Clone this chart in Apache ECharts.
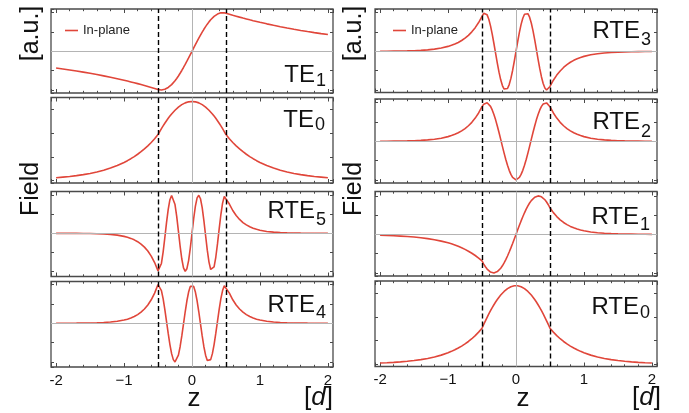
<!DOCTYPE html>
<html><head><meta charset="utf-8">
<script src="https://cdn.jsdelivr.net/npm/echarts@6/dist/echarts.min.js"></script>
<style>html,body{margin:0;padding:0;background:#fff}#c{width:689px;height:413px}</style>
</head><body><div id="c"></div>
<script>
// ---- data ----
const z = [-2,-1.9,-1.8,-1.7,-1.6,-1.5,-1.4,-1.3,-1.2,-1.1,
 -1,-0.95,-0.9,-0.85,-0.8,-0.75,-0.7,-0.65,-0.6,-0.55,
 -0.5,-0.475,-0.45,-0.425,-0.4,-0.375,-0.35,-0.325,-0.3,-0.275,-0.25,-0.225,-0.2,-0.175,-0.15,-0.125,-0.1,-0.075,-0.05,-0.025,0,
 0.025,0.05,0.075,0.1,0.125,0.15,0.175,0.2,0.225,0.25,0.275,0.3,0.325,0.35,0.375,0.4,0.425,0.45,0.475,0.5,
 0.55,0.6,0.65,0.7,0.75,0.8,0.85,0.9,0.95,1,
 1.1,1.2,1.3,1.4,1.5,1.6,1.7,1.8,1.9,2];

const te1 = [
-0.433,-0.457,-0.483,-0.510,-0.539,-0.569,-0.602,-0.636,-0.672,-0.710,
-0.750,-0.771,-0.792,-0.814,-0.837,-0.860,-0.884,-0.909,-0.934,-0.960,
-0.987,-0.997,-1.000,-0.995,-0.983,-0.963,-0.936,-0.902,-0.862,-0.815,-0.761,-0.702,-0.638,-0.569,-0.496,-0.419,-0.339,-0.257,-0.172,-0.086,0,
0.086,0.172,0.257,0.339,0.419,0.496,0.569,0.638,0.702,0.761,0.815,0.862,0.902,0.936,0.963,0.983,0.995,1.000,0.997,0.987,
0.960,0.934,0.909,0.884,0.860,0.837,0.814,0.792,0.771,0.750,
0.710,0.672,0.636,0.602,0.569,0.539,0.510,0.483,0.457,0.433];

const te0 = [
0.036,0.044,0.052,0.063,0.076,0.091,0.110,0.132,0.159,0.191,
0.230,0.252,0.277,0.304,0.333,0.365,0.401,0.439,0.482,0.529,
0.582,0.620,0.656,0.691,0.725,0.757,0.787,0.815,0.842,0.867,0.889,0.910,0.929,0.945,0.960,0.972,0.982,0.990,0.995,0.999,1,
0.999,0.995,0.990,0.982,0.972,0.960,0.945,0.929,0.910,0.889,0.867,0.842,0.815,0.787,0.757,0.725,0.691,0.656,0.620,0.582,
0.529,0.482,0.439,0.401,0.365,0.333,0.304,0.277,0.252,0.230,
0.191,0.159,0.132,0.110,0.091,0.076,0.063,0.052,0.044,0.036];

const rte5 = [
-0.001,-0.001,-0.001,-0.002,-0.004,-0.007,-0.011,-0.018,-0.030,-0.049,
-0.081,-0.104,-0.134,-0.172,-0.221,-0.283,-0.364,-0.467,-0.600,-0.770,
-0.989,-0.968,-0.794,-0.494,-0.117,0.279,0.631,0.884,0.996,0.952,0.757,0.443,0.058,-0.335,-0.676,-0.909,-1.000,-0.932,-0.717,-0.389,0,
0.389,0.717,0.932,1.000,0.909,0.676,0.335,-0.058,-0.443,-0.757,-0.952,-0.996,-0.884,-0.631,-0.279,0.117,0.494,0.794,0.968,0.989,
0.770,0.600,0.467,0.364,0.283,0.221,0.172,0.134,0.104,0.081,
0.049,0.030,0.018,0.011,0.007,0.004,0.002,0.001,0.001,0.001];

const rte4 = [
0.001,0.001,0.001,0.002,0.004,0.007,0.011,0.018,0.030,0.050,
0.082,0.105,0.135,0.173,0.223,0.286,0.367,0.471,0.605,0.777,
0.998,0.969,0.843,0.633,0.359,0.050,-0.264,-0.552,-0.785,-0.939,-0.999,-0.960,-0.824,-0.607,-0.328,-0.017,0.296,0.580,0.805,0.950,1,
0.950,0.805,0.580,0.296,-0.017,-0.328,-0.607,-0.824,-0.960,-0.999,-0.939,-0.785,-0.552,-0.264,0.050,0.359,0.633,0.843,0.969,0.998,
0.777,0.605,0.471,0.367,0.286,0.223,0.173,0.135,0.105,0.082,
0.050,0.030,0.018,0.011,0.007,0.004,0.002,0.001,0.001,0.001];

const rte3 = [
0.003,0.004,0.006,0.008,0.012,0.018,0.027,0.040,0.059,0.087,
0.129,0.157,0.190,0.231,0.281,0.342,0.415,0.505,0.613,0.745,
0.906,0.984,0.997,0.944,0.830,0.660,0.447,0.204,-0.052,-0.304,-0.537,-0.734,-0.883,-0.973,-1.000,-0.960,-0.857,-0.698,-0.493,-0.255,0,
0.255,0.493,0.698,0.857,0.960,1.000,0.973,0.883,0.734,0.537,0.304,0.052,-0.204,-0.447,-0.660,-0.830,-0.944,-0.997,-0.984,-0.906,
-0.745,-0.613,-0.505,-0.415,-0.342,-0.281,-0.231,-0.190,-0.157,-0.129,
-0.087,-0.059,-0.040,-0.027,-0.018,-0.012,-0.008,-0.006,-0.004,-0.003];

const rte2 = [
0.002,0.003,0.005,0.007,0.011,0.016,0.025,0.037,0.055,0.081,
0.121,0.148,0.181,0.221,0.270,0.330,0.403,0.492,0.601,0.734,
0.897,0.962,0.995,0.997,0.966,0.904,0.813,0.696,0.556,0.398,0.227,0.049,-0.130,-0.306,-0.471,-0.622,-0.752,-0.858,-0.936,-0.984,-1,
-0.984,-0.936,-0.858,-0.752,-0.622,-0.471,-0.306,-0.130,0.049,0.227,0.398,0.556,0.696,0.813,0.904,0.966,0.997,0.995,0.962,0.897,
0.734,0.601,0.492,0.403,0.330,0.270,0.221,0.181,0.148,0.121,
0.081,0.055,0.037,0.025,0.016,0.011,0.007,0.005,0.003,0.002];

const rte1 = [
-0.022,-0.028,-0.035,-0.044,-0.055,-0.069,-0.087,-0.110,-0.138,-0.174,
-0.218,-0.245,-0.275,-0.309,-0.346,-0.388,-0.436,-0.489,-0.548,-0.615,
-0.690,-0.771,-0.841,-0.900,-0.945,-0.977,-0.996,-1.000,-0.990,-0.966,-0.928,-0.878,-0.815,-0.740,-0.655,-0.561,-0.458,-0.350,-0.236,-0.119,0,
0.119,0.236,0.350,0.458,0.561,0.655,0.740,0.815,0.878,0.928,0.966,0.990,1.000,0.996,0.977,0.945,0.900,0.841,0.771,0.690,
0.565,0.463,0.379,0.310,0.254,0.208,0.170,0.139,0.114,0.093,
0.063,0.042,0.028,0.019,0.013,0.008,0.006,0.004,0.003,0.002];

const rte0 = [
0.015,0.018,0.023,0.029,0.037,0.046,0.058,0.073,0.092,0.115,
0.145,0.163,0.183,0.205,0.230,0.258,0.289,0.324,0.364,0.408,
0.458,0.506,0.552,0.597,0.640,0.681,0.721,0.757,0.792,0.824,0.854,0.881,0.906,0.927,0.947,0.963,0.976,0.987,0.994,0.999,1,
0.999,0.994,0.987,0.976,0.963,0.947,0.927,0.906,0.881,0.854,0.824,0.792,0.757,0.721,0.681,0.640,0.597,0.552,0.506,0.458,
0.408,0.364,0.324,0.289,0.258,0.230,0.205,0.183,0.163,0.145,
0.115,0.092,0.073,0.058,0.046,0.037,0.029,0.023,0.018,0.015];

const xTickValues = [-2, -1, 0, 1, 2];
const xTickLabels = ['-2', '\u22121', '0', '1', '2'];
const guideX = [-0.5, 0.5];
const modeNames = [['TE','1'],['TE','0'],['RTE','5'],['RTE','4'],['RTE','3'],['RTE','2'],['RTE','1'],['RTE','0']];
const fieldSeries = [te1, te0, rte5, rte4, rte3, rte2, rte1, rte0];
const legendName = 'In-plane';

// ---- layout ----
const FONT = "'Liberation Sans', Arial, Helvetica, sans-serif";
const RED = '#e0463a';
const FRAME = '#4a4a4a';
const layout = [
 {g:{left:51,top:9,width:282,height:84},      y:[-1.079,1.094], zero:true,  t:[315,75,316,81]},
 {g:{left:51,top:97.5,width:282,height:85.5}, y:[-0.03,1.05],   zero:false, t:[314,120,315,125]},
 {g:{left:51,top:191.5,width:282,height:85},  y:[-1.137,1.1],   zero:true,  t:[315,211,316,220.5]},
 {g:{left:51,top:281.5,width:282,height:85.5},y:[-1.13,1.077],  zero:true,  t:[315,305,316,313], bottom:true},
 {g:{left:375,top:9,width:282,height:83.5},   y:[-1.062,1.095], zero:true,  t:[640,31,641,40.5]},
 {g:{left:375,top:99,width:282,height:84},    y:[-1.08,1.096],  zero:true,  t:[640,122,641,132]},
 {g:{left:375,top:191.5,width:282,height:84.5},y:[-1.08,1.114], zero:true,  t:[639,217,640,225.5]},
 {g:{left:375,top:281,width:282,height:85.5}, y:[-0.03,1.06],   zero:false, t:[639,307,640,313.5], bottom:true}
];

function fmtX(v){
  const i = xTickValues.indexOf(Math.round(v*1000)/1000);
  return i >= 0 ? xTickLabels[i] : '';
}

const grid=[], xAxis=[], yAxis=[], series=[], graphic=[];
layout.forEach((p,i)=>{
  grid.push(Object.assign({show:true, borderColor:FRAME, borderWidth:1.3, backgroundColor:'transparent', containLabel:false}, p.g));
  const tick = {show:true, inside:true, length:4, lineStyle:{color:FRAME, width:1}};
  const minor = {show:true, splitNumber:5, length:2.2, lineStyle:{color:FRAME, width:1}};
  ['bottom','top'].forEach(pos=>{
    xAxis.push({type:'value', gridIndex:i, position:pos, min:-2.075, max:2.075, splitNumber:4,
      axisLine:{show:false, onZero:false}, splitLine:{show:false}, axisTick:tick, minorTick:minor,
      axisLabel:{show: pos==='bottom' && !!p.bottom, margin:6, fontSize:15, color:'#111', fontFamily:FONT, formatter:fmtX}});
  });
  ['left','right'].forEach(pos=>{
    yAxis.push({type:'value', gridIndex:i, position:pos, min:p.y[0], max:p.y[1], splitNumber:4,
      axisLine:{show:false, onZero:false}, splitLine:{show:false}, axisLabel:{show:false},
      axisTick:{show:true, inside:true, length:3, lineStyle:{color:FRAME, width:1}}});
  });
  const guides = [{xAxis:0}];
  if (p.zero) guides.push({yAxis:0});
  series.push({type:'line', xAxisIndex:2*i, yAxisIndex:2*i, data:[], z:1, silent:true,
    markLine:{silent:true, symbol:['none','none'], label:{show:false}, emphasis:{disabled:true},
      lineStyle:{color:'#b4b4b4', width:1, type:'solid'}, data:guides}});
  const vals = fieldSeries[i];
  series.push({type:'line', name:legendName, xAxisIndex:2*i, yAxisIndex:2*i,
    data: z.map((v,k)=>[v, vals[k]]), showSymbol:false, symbol:'none', smooth:false,
    lineStyle:{color:RED, width:1.6}, itemStyle:{color:RED}, z:3, silent:true});
  series.push({type:'line', xAxisIndex:2*i, yAxisIndex:2*i, data:[], z:4, silent:true,
    markLine:{silent:true, symbol:['none','none'], label:{show:false}, emphasis:{disabled:true},
      lineStyle:{color:'#000', width:1.4, type:[5,3]}, data:guideX.map(v=>({xAxis:v}))}});
  // title
  const [mx,my,sx,sy] = p.t;
  graphic.push({type:'text', x:mx, y:my, silent:true, style:{text:modeNames[i][0], fill:'#111', fontSize:24, fontFamily:FONT, align:'right', verticalAlign:'middle'}});
  graphic.push({type:'text', x:sx, y:sy, silent:true, style:{text:modeNames[i][1], fill:'#111', fontSize:18, fontFamily:FONT, align:'left', verticalAlign:'middle'}});
});

// axis names
[[194,333],[523,661]].forEach(([zx,dx])=>{
  graphic.push({type:'text', x:zx, y:399, silent:true, style:{text:'z', fill:'#111', fontSize:26, fontFamily:FONT, align:'center', verticalAlign:'middle'}});
  graphic.push({type:'text', x:dx, y:398, silent:true, style:{text:'{n|[}{i|d}{n|]}', fill:'#111', fontSize:26, fontFamily:FONT, align:'right', verticalAlign:'middle',
    rich:{n:{fontSize:26, fontFamily:FONT, fill:'#111'}, i:{fontSize:26, fontFamily:FONT, fontStyle:'italic', fill:'#111'}}}});
});
[31, 354].forEach(x=>{
  graphic.push({type:'text', x:x, y:33.5, rotation:Math.PI/2, silent:true, style:{text:'[a.u.]', fill:'#111', fontSize:25, fontFamily:FONT, align:'center', verticalAlign:'middle'}});
  graphic.push({type:'text', x:x, y:189, rotation:Math.PI/2, silent:true, style:{text:'Field', fill:'#111', fontSize:25, fontFamily:FONT, align:'center', verticalAlign:'middle'}});
});

const chart = echarts.init(document.getElementById('c'), null, {renderer:'canvas', width:689, height:413});
chart.setOption({
  animation:false,
  backgroundColor:'#fff',
  grid, xAxis, yAxis, series, graphic,
  legend:[
    {data:[legendName], left:60, top:19, icon:'rect', itemWidth:13, itemHeight:1.6, itemGap:5, selectedMode:false,
     textStyle:{fontSize:13, fontFamily:FONT, color:'#222'}},
    {data:[legendName], left:388, top:19, icon:'rect', itemWidth:13, itemHeight:1.6, itemGap:5, selectedMode:false,
     textStyle:{fontSize:13, fontFamily:FONT, color:'#222'}}
  ]
});
</script></body></html>
